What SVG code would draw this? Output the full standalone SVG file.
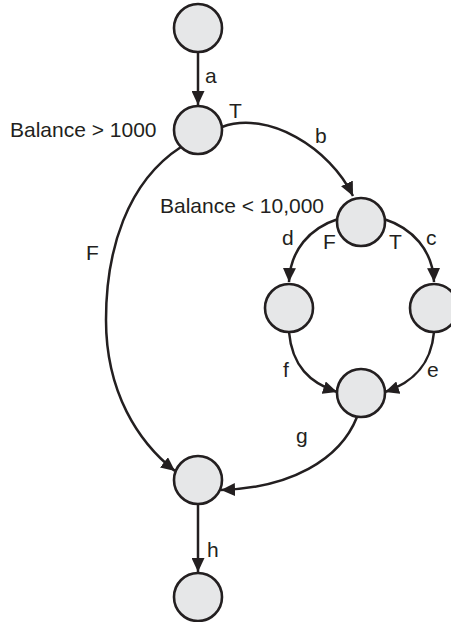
<svg xmlns="http://www.w3.org/2000/svg" width="451" height="622" viewBox="0 0 451 622">
<defs>
<marker id="arr" markerUnits="userSpaceOnUse" markerWidth="15" markerHeight="13" refX="14" refY="6.5" orient="auto">
<path d="M0,0 L14,6.5 L0,13 z" fill="#231f20"/>
</marker>
<style>
.n{fill:#e6e7e8;stroke:#231f20;stroke-width:2.6}
.e{fill:none;stroke:#231f20;stroke-width:2.5;marker-end:url(#arr)}
text{font-family:"Liberation Sans",Arial,Helvetica,sans-serif;font-size:21px;fill:#231f20}
</style>
</defs>
<rect width="451" height="622" fill="#ffffff"/>
<g id="connectors">
<path id="edge-a" class="e" d="M198,53 L198,105"/>
<path id="edge-b" class="e" d="M222,127 C268,110 330,148 353,196"/>
<path id="edge-F" class="e" d="M181,147 C127,182 106,250 106,320 C106,392 138,442 175,471"/>
<path id="edge-d" class="e" d="M338,219 C310,228 290,250 289,282"/>
<path id="edge-c" class="e" d="M384,219 C412,228 433,250 434,282"/>
<path id="edge-f" class="e" d="M289,332 C292,366 310,383 337,392"/>
<path id="edge-e" class="e" d="M434,332 C431,366 412,383 385,392"/>
<path id="edge-g" class="e" d="M357,417 C340,460 290,488 221,490"/>
<path id="edge-h" class="e" d="M198,504 L198,572"/>
</g>
<g id="labels">
<text x="205" y="83">a</text>
<text x="229" y="118">T</text>
<text x="315" y="143">b</text>
<text x="86" y="260">F</text>
<text x="282" y="245">d</text>
<text x="323" y="249">F</text>
<text x="389" y="249">T</text>
<text x="426" y="245">c</text>
<text x="283" y="377">f</text>
<text x="427" y="377">e</text>
<text x="296" y="443">g</text>
<text x="207" y="557">h</text>
</g>
<g id="n1"><circle class="n" cx="198" cy="28" r="24"/></g>
<g id="n2"><circle class="n" cx="198" cy="130" r="24"/><text x="10" y="137">Balance &gt; 1000</text></g>
<g id="n3"><circle class="n" cx="361" cy="222" r="24"/><text x="160" y="213">Balance &lt; 10,000</text></g>
<g id="n4"><circle class="n" cx="289" cy="308" r="24"/></g>
<g id="n5"><circle class="n" cx="434" cy="308" r="24"/></g>
<g id="n6"><circle class="n" cx="361" cy="393" r="24"/></g>
<g id="n7"><circle class="n" cx="198" cy="480" r="24"/></g>
<g id="n8"><circle class="n" cx="198" cy="597" r="24"/></g>
</svg>
